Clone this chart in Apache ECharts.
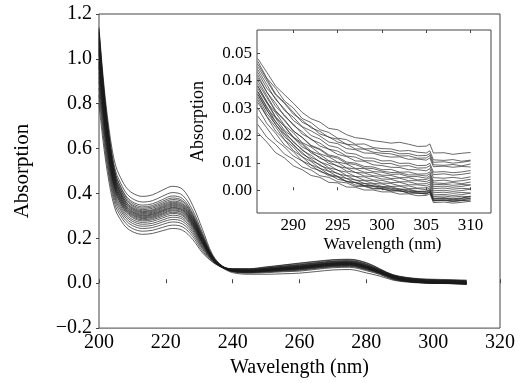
<!DOCTYPE html>
<html><head><meta charset="utf-8">
<script src="https://cdn.jsdelivr.net/npm/echarts@6/dist/echarts.min.js"></script>
<style>html,body{margin:0;padding:0;background:#fff}#c{width:527px;height:383px}</style>
</head><body><div id="c"></div>
<script>
// ---- main chart wavelengths (nm) ----
const mainWl = [200,201,202,203,204,205,206,208,210,213,216,219,222,225,228,231,234,237,240,245,250,255,260,265,270,275,280,284,288,292,296,300,305,310];
// ---- main spectra (absorption) ----
const m01 = [1.140,.959,.809,.688,.590,.523,.485,.430,.402,.387,.394,.415,.432,.419,.348,.239,.127,.076,.064,.064,.071,.080,.088,.096,.103,.105,.090,.063,.0380,.0261,.0203,.0177,.0161,.0138];
const m02 = [1.120,.938,.786,.665,.567,.498,.461,.405,.377,.362,.368,.388,.404,.392,.326,.223,.122,.075,.063,.062,.068,.076,.084,.092,.099,.101,.086,.060,.0372,.0247,.0185,.0152,.0136,.0110];
const m03 = [1.100,.920,.769,.649,.551,.483,.446,.391,.363,.348,.354,.373,.389,.377,.313,.215,.120,.074,.065,.065,.073,.081,.090,.098,.105,.107,.092,.065,.0348,.0228,.0168,.0141,.0127,.0107];
const m04 = [1.130,.940,.782,.656,.553,.482,.443,.385,.356,.340,.346,.365,.380,.368,.306,.210,.118,.074,.061,.059,.066,.073,.080,.088,.095,.097,.082,.058,.0352,.0233,.0168,.0135,.0118,.0096];
const m05 = [1.080,.901,.752,.632,.535,.468,.431,.377,.349,.334,.340,.358,.373,.362,.301,.206,.117,.074,.062,.061,.067,.075,.082,.090,.097,.099,.084,.059,.0336,.0217,.0152,.0126,.0110,.0085];
const m06 = [1.110,.922,.766,.641,.539,.469,.430,.373,.344,.328,.334,.352,.366,.355,.295,.202,.116,.073,.060,.057,.063,.069,.076,.084,.091,.093,.078,.055,.0331,.0200,.0136,.0107,.0091,.0072];
const m07 = [1.060,.883,.736,.618,.522,.456,.419,.365,.338,.323,.328,.347,.361,.350,.291,.199,.115,.073,.060,.058,.064,.071,.078,.086,.093,.095,.080,.056,.0306,.0185,.0125,.0097,.0082,.0063];
const m08 = [1.090,.905,.751,.627,.527,.458,.419,.363,.334,.319,.324,.342,.356,.345,.287,.197,.114,.073,.059,.056,.061,.068,.074,.082,.089,.091,.076,.053,.0318,.0188,.0123,.0090,.0071,.0049];
const m09 = [1.050,.874,.727,.609,.513,.447,.411,.357,.330,.315,.320,.338,.352,.341,.284,.194,.113,.073,.058,.055,.060,.066,.072,.080,.087,.089,.074,.052,.0287,.0164,.0103,.0075,.0060,.0040];
const m10 = [1.070,.888,.736,.615,.516,.448,.410,.354,.326,.311,.316,.334,.347,.337,.280,.192,.112,.073,.059,.057,.062,.069,.075,.083,.090,.092,.077,.054,.0291,.0161,.0098,.0070,.0052,.0030];
const m11 = [1.030,.856,.712,.596,.502,.437,.401,.348,.321,.307,.312,.329,.343,.332,.276,.189,.111,.072,.057,.054,.059,.064,.070,.078,.085,.087,.072,.051,.0283,.0158,.0096,.0066,.0044,.0019];
const m12 = [1.040,.863,.716,.598,.502,.436,.399,.345,.318,.303,.308,.325,.338,.328,.273,.187,.111,.072,.058,.056,.061,.067,.073,.081,.088,.090,.075,.053,.0266,.0143,.0082,.0055,.0039,.0020];
const m13 = [1.000,.832,.692,.580,.489,.426,.391,.340,.314,.300,.305,.322,.335,.325,.270,.185,.110,.072,.056,.053,.057,.063,.068,.076,.083,.085,.070,.049,.0263,.0142,.0081,.0051,.0031,.0005];
const m14 = [1.020,.846,.701,.586,.491,.426,.390,.337,.310,.296,.301,.318,.331,.321,.266,.183,.109,.072,.058,.054,.059,.065,.071,.079,.086,.088,.073,.051,.0268,.0136,.0070,.0041,.0024,.0004];
const m15 = [.980,.815,.677,.567,.478,.416,.381,.331,.306,.292,.297,.313,.326,.316,.263,.180,.108,.072,.056,.052,.056,.061,.066,.074,.081,.083,.068,.048,.0252,.0128,.0066,.0036,.0016,-.0010];
const m16 = [.990,.822,.681,.569,.478,.414,.379,.328,.302,.288,.293,.309,.322,.312,.259,.178,.108,.071,.057,.053,.058,.063,.069,.077,.084,.086,.071,.050,.0249,.0120,.0054,.0026,.0009,-.0011];
const m17 = [.960,.798,.662,.554,.466,.405,.371,.322,.297,.283,.288,.304,.316,.306,.255,.175,.107,.071,.055,.051,.054,.059,.064,.072,.079,.081,.066,.046,.0241,.0115,.0053,.0023,.0002,-.0024];
const m18 = [.970,.804,.666,.555,.465,.403,.368,.317,.292,.278,.283,.298,.311,.301,.250,.172,.106,.071,.056,.052,.057,.062,.067,.075,.082,.084,.069,.048,.0239,.0108,.0043,.0014,-.0003,-.0023];
const m19 = [.940,.779,.646,.539,.452,.391,.358,.309,.284,.271,.276,.291,.303,.293,.244,.167,.104,.071,.054,.050,.053,.058,.062,.070,.077,.079,.064,.045,.0231,.0105,.0043,.0013,-.0008,-.0030];
const m20 = [.920,.762,.631,.526,.440,.381,.348,.300,.276,.263,.267,.282,.294,.285,.237,.162,.103,.070,.055,.051,.055,.060,.065,.073,.080,.082,.067,.047,.0216,.0093,.0032,.0005,-.0011,-.0028];
const m21 = [.900,.745,.616,.512,.428,.370,.338,.291,.267,.254,.258,.273,.284,.275,.229,.157,.101,.070,.053,.048,.052,.056,.060,.068,.075,.077,.062,.044,.0208,.0092,.0034,.0006,-.0014,-.0034];
const m22 = [.870,.720,.595,.494,.413,.357,.325,.280,.257,.244,.248,.262,.273,.264,.220,.151,.099,.069,.052,.047,.050,.054,.058,.066,.073,.075,.060,.042,.0183,.0082,.0031,.0009,-.0005,-.0021];
const m23 = [.840,.694,.572,.475,.396,.341,.311,.267,.244,.232,.236,.249,.259,.251,.209,.143,.096,.069,.051,.045,.047,.051,.054,.062,.069,.071,.056,.039,.0167,.0074,.0027,.0005,-.0013,-.0039];
const m24 = [.800,.660,.544,.451,.375,.323,.294,.251,.230,.218,.222,.234,.244,.236,.196,.135,.094,.068,.047,.040,.040,.042,.045,.052,.059,.061,.046,.032,.0137,.0054,.0012,-.0006,-.0019,-.0040];

// ---- inset wavelengths (nm) ----
const insetWl = [286,287,288,289,290,291,292,293,294,295,296,297,298,299,300,301,302,303,304,305,305.4,305.8,307,308,309,310];
// ---- inset spectra ----
const i01 = [.0480,.0431,.0380,.0349,.0318,.0284,.0261,.0249,.0226,.0221,.0203,.0192,.0188,.0181,.0177,.0172,.0175,.0168,.0160,.0161,.0169,.0136,.0137,.0131,.0135,.0138];
const i02 = [.0470,.0410,.0372,.0326,.0300,.0262,.0247,.0221,.0211,.0190,.0185,.0168,.0169,.0156,.0152,.0151,.0143,.0145,.0139,.0136,.0144,.0111,.0109,.0112,.0106,.0110];
const i03 = [.0450,.0399,.0348,.0317,.0278,.0256,.0228,.0215,.0193,.0187,.0168,.0165,.0151,.0152,.0141,.0142,.0133,.0134,.0126,.0127,.0134,.0102,.0104,.0099,.0102,.0107];
const i04 = [.0460,.0407,.0352,.0320,.0285,.0248,.0233,.0205,.0195,.0176,.0168,.0151,.0150,.0139,.0135,.0133,.0125,.0126,.0117,.0118,.0127,.0093,.0091,.0094,.0089,.0096];
const i05 = [.0430,.0373,.0336,.0291,.0267,.0232,.0217,.0198,.0176,.0170,.0152,.0148,.0136,.0135,.0126,.0121,.0122,.0113,.0114,.0110,.0118,.0086,.0088,.0084,.0087,.0085];
const i06 = [.0440,.0386,.0331,.0297,.0255,.0231,.0200,.0187,.0163,.0156,.0136,.0132,.0118,.0117,.0107,.0108,.0098,.0099,.0090,.0091,.0099,.0066,.0068,.0064,.0067,.0072];
const i07 = [.0410,.0359,.0306,.0275,.0237,.0214,.0185,.0172,.0150,.0143,.0125,.0121,.0108,.0107,.0097,.0098,.0088,.0090,.0081,.0082,.0090,.0057,.0060,.0055,.0058,.0063];
const i08 = [.0420,.0358,.0318,.0270,.0242,.0205,.0188,.0161,.0150,.0131,.0123,.0107,.0106,.0093,.0090,.0084,.0083,.0075,.0075,.0071,.0079,.0046,.0044,.0047,.0043,.0049];
const i09 = [.0390,.0339,.0287,.0254,.0216,.0193,.0164,.0151,.0129,.0122,.0103,.0099,.0087,.0085,.0075,.0076,.0066,.0067,.0059,.0060,.0067,.0034,.0037,.0032,.0035,.0040];
const i10 = [.0400,.0346,.0291,.0257,.0217,.0192,.0161,.0148,.0125,.0117,.0098,.0094,.0081,.0079,.0070,.0065,.0064,.0056,.0056,.0052,.0060,.0027,.0025,.0028,.0024,.0030];
const i11 = [.0380,.0321,.0283,.0237,.0210,.0174,.0158,.0133,.0122,.0103,.0096,.0080,.0079,.0068,.0066,.0058,.0059,.0050,.0050,.0044,.0053,.0020,.0022,.0018,.0021,.0019];
const i12 = [.0370,.0319,.0266,.0234,.0195,.0172,.0143,.0130,.0108,.0101,.0082,.0078,.0066,.0064,.0055,.0054,.0046,.0046,.0038,.0039,.0046,.0013,.0015,.0011,.0014,.0020];
const i13 = [.0360,.0301,.0263,.0219,.0193,.0158,.0142,.0116,.0106,.0087,.0081,.0065,.0063,.0053,.0051,.0043,.0044,.0035,.0035,.0031,.0038,.0006,.0008,.0004,.0007,.0005];
const i14 = [.0380,.0325,.0268,.0233,.0192,.0167,.0136,.0121,.0098,.0090,.0070,.0065,.0052,.0050,.0041,.0040,.0031,.0031,.0023,.0024,.0030,-.0002,.0000,-.0004,-.0001,.0004];
const i15 = [.0350,.0291,.0252,.0207,.0180,.0145,.0128,.0103,.0092,.0073,.0066,.0050,.0049,.0038,.0036,.0028,.0029,.0020,.0020,.0016,.0023,-.0009,-.0007,-.0011,-.0008,-.0010];
const i16 = [.0360,.0306,.0249,.0215,.0175,.0150,.0120,.0105,.0082,.0074,.0054,.0050,.0037,.0035,.0026,.0025,.0016,.0016,.0008,.0009,.0015,-.0017,-.0015,-.0019,-.0016,-.0011];
const i17 = [.0340,.0280,.0241,.0195,.0168,.0132,.0115,.0090,.0079,.0060,.0053,.0037,.0035,.0025,.0023,.0014,.0015,.0006,.0006,.0002,.0009,-.0023,-.0021,-.0025,-.0022,-.0024];
const i18 = [.0350,.0295,.0239,.0204,.0164,.0138,.0108,.0094,.0070,.0062,.0043,.0038,.0025,.0023,.0014,.0013,.0004,.0004,-.0004,-.0003,.0003,-.0029,-.0027,-.0031,-.0028,-.0023];
const i19 = [.0330,.0270,.0231,.0185,.0158,.0122,.0105,.0080,.0069,.0050,.0043,.0027,.0025,.0015,.0013,.0004,.0005,-.0004,-.0004,-.0008,-.0001,-.0033,-.0031,-.0035,-.0032,-.0030];
const i20 = [.0320,.0269,.0216,.0184,.0145,.0122,.0093,.0080,.0058,.0051,.0032,.0028,.0016,.0014,.0005,.0004,-.0004,-.0004,-.0012,-.0011,-.0005,-.0037,-.0035,-.0039,-.0036,-.0028];
const i21 = [.0300,.0244,.0208,.0165,.0141,.0107,.0092,.0068,.0058,.0040,.0034,.0019,.0017,.0007,.0006,-.0002,-.0001,-.0010,-.0010,-.0014,-.0007,-.0039,-.0037,-.0041,-.0038,-.0034];
const i22 = [.0270,.0228,.0183,.0158,.0125,.0107,.0082,.0072,.0053,.0048,.0031,.0029,.0018,.0017,.0009,.0009,.0001,.0001,-.0006,-.0005,.0001,-.0031,-.0029,-.0033,-.0030,-.0021];
const i23 = [.0240,.0194,.0167,.0132,.0113,.0085,.0074,.0053,.0047,.0031,.0027,.0014,.0014,.0005,.0005,-.0003,-.0002,-.0010,-.0009,-.0013,-.0006,-.0038,-.0036,-.0040,-.0037,-.0039];
const i24 = [.0210,.0176,.0137,.0118,.0089,.0075,.0054,.0047,.0029,.0027,.0012,.0011,.0001,.0001,-.0006,-.0006,-.0014,-.0013,-.0020,-.0019,-.0013,-.0045,-.0043,-.0047,-.0044,-.0040];

// ---- tick labels ----
const insetXTicks = [290,295,300,305,310];
const insetYTicks = [0,0.01,0.02,0.03,0.04,0.05];

const mainSpectra = [m01,m02,m03,m04,m05,m06,m07,m08,m09,m10,m11,m12,m13,m14,m15,m16,m17,m18,m19,m20,m21,m22,m23,m24];
const insetSpectra = [i01,i02,i03,i04,i05,i06,i07,i08,i09,i10,i11,i12,i13,i14,i15,i16,i17,i18,i19,i20,i21,i22,i23,i24];

const FONT = 'Liberation Serif';
const AX = '#444';

const series = [];
mainSpectra.forEach(arr => series.push({
  type:'line', xAxisIndex:0, yAxisIndex:0, showSymbol:false, silent:true,
  smooth:0.35, z:2,
  lineStyle:{width:0.7,color:'#1a1a1a'},
  data: mainWl.map((x,j)=>[x,arr[j]])
}));
insetSpectra.forEach(arr => series.push({
  type:'line', xAxisIndex:1, yAxisIndex:1, showSymbol:false, silent:true, z:10,
  lineStyle:{width:0.7,color:'#2a2a2a'},
  data: insetWl.map((x,j)=>[x,arr[j]])
}));

const chart = echarts.init(document.getElementById('c'), null, {renderer:'canvas'});
chart.setOption({
  animation:false,
  backgroundColor:'#fff',
  textStyle:{fontFamily:FONT},
  grid:[
    {left:99, top:14, width:401, height:315, show:true, borderColor:AX, borderWidth:1, backgroundColor:'transparent'},
    {left:257, top:30, width:234, height:183, show:true, borderColor:AX, borderWidth:1, backgroundColor:'#fff', z:5}
  ],
  xAxis:[
    {type:'value', gridIndex:0, min:200, max:320, interval:20,
     axisLine:{show:false}, splitLine:{show:false},
     axisTick:{inside:true, length:4, lineStyle:{color:AX}},
     axisLabel:{fontSize:20, color:'#000', margin:5, fontFamily:FONT},
     name:'Wavelength (nm)', nameLocation:'middle', nameGap:28,
     nameTextStyle:{fontSize:20, color:'#000', fontFamily:FONT}},
    {type:'value', gridIndex:1, min:285.9, max:312.3, z:12,
     axisLine:{show:false}, splitLine:{show:false},
     axisTick:{inside:true, length:3, customValues:insetXTicks, lineStyle:{color:AX}},
     axisLabel:{fontSize:17, color:'#000', margin:4, fontFamily:FONT, customValues:insetXTicks},
     name:'Wavelength (nm)', nameLocation:'middle', nameGap:23,
     nameTextStyle:{fontSize:17, color:'#000', fontFamily:FONT, padding:[0,0,0,17]}},
    {type:'value', gridIndex:1, position:'top', min:285.9, max:312.3, z:12,
     axisLine:{show:false}, splitLine:{show:false},
     axisTick:{inside:true, length:3, customValues:insetXTicks, lineStyle:{color:AX}},
     axisLabel:{show:false}}
  ],
  yAxis:[
    {type:'value', gridIndex:0, min:-0.2, max:1.2, interval:0.2,
     axisLine:{show:false}, splitLine:{show:false},
     axisTick:{inside:false, length:3, lineStyle:{color:AX}},
     axisLabel:{fontSize:20, color:'#000', margin:7, fontFamily:FONT,
       formatter:v => (v < -1e-9 ? '\u2212' : '') + Math.abs(v).toFixed(1)},
     name:'Absorption', nameLocation:'middle', nameGap:66,
     nameTextStyle:{fontSize:21, color:'#000', fontFamily:FONT}},
    {type:'value', gridIndex:1, min:-0.0083, max:0.0585, z:12,
     axisLine:{show:false}, splitLine:{show:false},
     axisTick:{inside:true, length:3, customValues:insetYTicks, lineStyle:{color:AX}},
     axisLabel:{fontSize:17, color:'#000', margin:5, fontFamily:FONT, customValues:insetYTicks,
       formatter:v => v.toFixed(2)},
     name:'Absorption', nameLocation:'middle', nameGap:50,
     nameTextStyle:{fontSize:18, color:'#000', fontFamily:FONT}}
  ],
  series: series
});
</script>
</body></html>
